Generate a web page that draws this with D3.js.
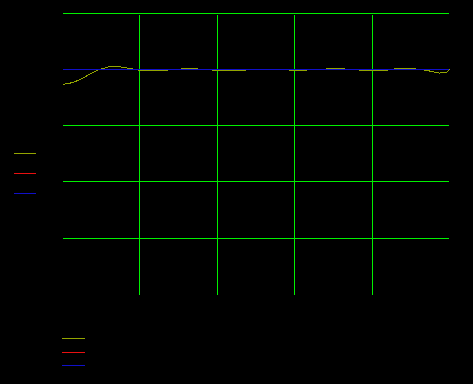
<!DOCTYPE html>
<html>
<head>
<meta charset="utf-8">
<script src="https://cdn.jsdelivr.net/npm/d3@7"></script>
<style>
  html, body { margin: 0; padding: 0; background: #000; }
  svg { display: block; background: #000; }
</style>
</head>
<body>
<svg width="473" height="384"></svg>
<script>
// Select the svg element
let svg = d3.select('svg');

// Define constants
let margin = {top: 13, right: 22.8, bottom: 89.5, left: 61.8};
let width = +svg.attr('width');
let height = +svg.attr('height');

// Tick values of the axes
let xTicks = [20, 40, 60, 80];
let yTicks = [1, 0, -1, -2, -3];

// Series names and colours
let seriesNames = ['s1', 's2', 's3'];
let seriesColors = ['#93a500', '#e81010', '#1010c8'];

// Sample positions along x
let xValues = [0.3, 1.8, 3.6, 5.7, 7.5, 9.1, 10.9, 12.7, 14.2, 16.1, 17.6, 19.7, 22.5, 25.6, 29.0,
               32.9, 36.8, 40.7, 45.9, 51.0, 56.2, 61.4, 66.6, 71.0, 74.4, 78.2, 80.1, 83.4,
               86.5, 89.9, 92.5, 95.1, 97.2, 98.7, 99.8];

// Series values
let series1 = [-0.266, -0.252, -0.213, -0.146, -0.075, -0.018, 0.018, 0.05, 0.048, 0.032, 0.014,
               -0.012, -0.03, -0.021, -0.005, 0.014, -0.005, -0.018, -0.016, -0.005, -0.009,
               -0.016, 0, 0.014, -0.004, -0.02, -0.028, -0.018, 0.012, 0.012, -0.005, -0.036,
               -0.066, -0.062, 0];
let series2 = [-0.012, 0, 0, 0, 0, 0, 0, 0, 0, 0, 0, 0, 0, 0, 0, 0, 0, 0, 0, 0, 0, 0, 0, 0, 0,
               0, 0, 0, 0, 0, 0, 0, 0, 0, 0];
let series3 = [0, 0, 0, 0, 0, 0, 0, 0, 0, 0, 0, 0, 0, 0, 0, 0, 0, 0, 0, 0, 0, 0, 0, 0, 0, 0, 0,
               0, 0, 0, 0, 0, 0, 0, 0];

let allSeries = [series1, series2, series3];

// Scales
let x = d3.scaleLinear()
            .domain([0, 100])
            .range([margin.left, width - margin.right]);

let y = d3.scaleLinear()
            .domain([1, -4])
            .range([margin.top, height - margin.bottom]);

// Horizontal grid lines
svg.append('g')
    .selectAll('line')
    .data(yTicks)
    .enter().append('line')
    .attr('x1', x(0.3))
    .attr('x2', x(99.8))
    .attr('y1', d => y(d))
    .attr('y2', d => y(d))
    .attr('stroke', '#00f000')
    .attr('stroke-width', 1)
    .attr('shape-rendering', 'crispEdges');

// Vertical grid lines
svg.append('g')
    .selectAll('line')
    .data(xTicks)
    .enter().append('line')
    .attr('x1', d => x(d))
    .attr('x2', d => x(d))
    .attr('y1', y(1) + 2)
    .attr('y2', y(-4))
    .attr('stroke', '#00f000')
    .attr('stroke-width', 1)
    .attr('shape-rendering', 'crispEdges');

// Axes with black labels (drawn but invisible on black)
svg.append('g')
    .attr('transform', 'translate(0,' + y(-4) + ')')
    .call(d3.axisBottom(x).tickValues(xTicks).tickSize(0))
    .call(g => g.select('.domain').remove())
    .selectAll('text')
    .attr('fill', '#000')
    .attr('font-family', 'DejaVu Sans')
    .attr('font-size', 10);

svg.append('g')
    .attr('transform', 'translate(' + (margin.left + 1) + ',0)')
    .call(d3.axisLeft(y).tickValues(yTicks).tickSize(0))
    .call(g => g.select('.domain').remove())
    .selectAll('text')
    .attr('fill', '#000')
    .attr('font-family', 'DejaVu Sans')
    .attr('font-size', 10);

// Lines
let line = d3.line()
                .x((d, i) => x(xValues[i]))
                .y(d => y(d))
                .curve(d3.curveMonotoneX);

svg.append('g')
    .selectAll('path')
    .data(allSeries)
    .enter().append('path')
    .attr('d', d => line(d))
    .attr('fill', 'none')
    .attr('stroke', (d, i) => seriesColors[i])
    .attr('stroke-width', 1)
    .attr('shape-rendering', 'crispEdges');

// Left legend
let legendLeft = svg.append('g')
                    .selectAll('g')
                    .data(seriesNames)
                    .enter().append('g')
                    .attr('transform', (d, i) => 'translate(14,' + (153.5 + i * 20) + ')');

legendLeft.append('line')
    .attr('x1', 0).attr('x2', 22)
    .attr('stroke', (d, i) => seriesColors[i])
    .attr('stroke-width', 1)
    .attr('shape-rendering', 'crispEdges');

legendLeft.append('text')
    .attr('x', 24).attr('dy', '0.32em')
    .attr('fill', '#000')
    .attr('font-family', 'DejaVu Sans')
    .attr('font-size', 8)
    .text(d => d);

// Bottom legend
let legendBottom = svg.append('g')
                    .selectAll('g')
                    .data(seriesNames)
                    .enter().append('g')
                    .attr('transform', (d, i) => 'translate(62,' + (338.5 + i * 13.5) + ')');

legendBottom.append('line')
    .attr('x1', 0).attr('x2', 23)
    .attr('stroke', (d, i) => seriesColors[i])
    .attr('stroke-width', 1)
    .attr('shape-rendering', 'crispEdges');

legendBottom.append('text')
    .attr('x', 28).attr('dy', '0.32em')
    .attr('fill', '#000')
    .attr('font-family', 'DejaVu Sans')
    .attr('font-size', 10)
    .text(d => d);
</script>
</body>
</html>
